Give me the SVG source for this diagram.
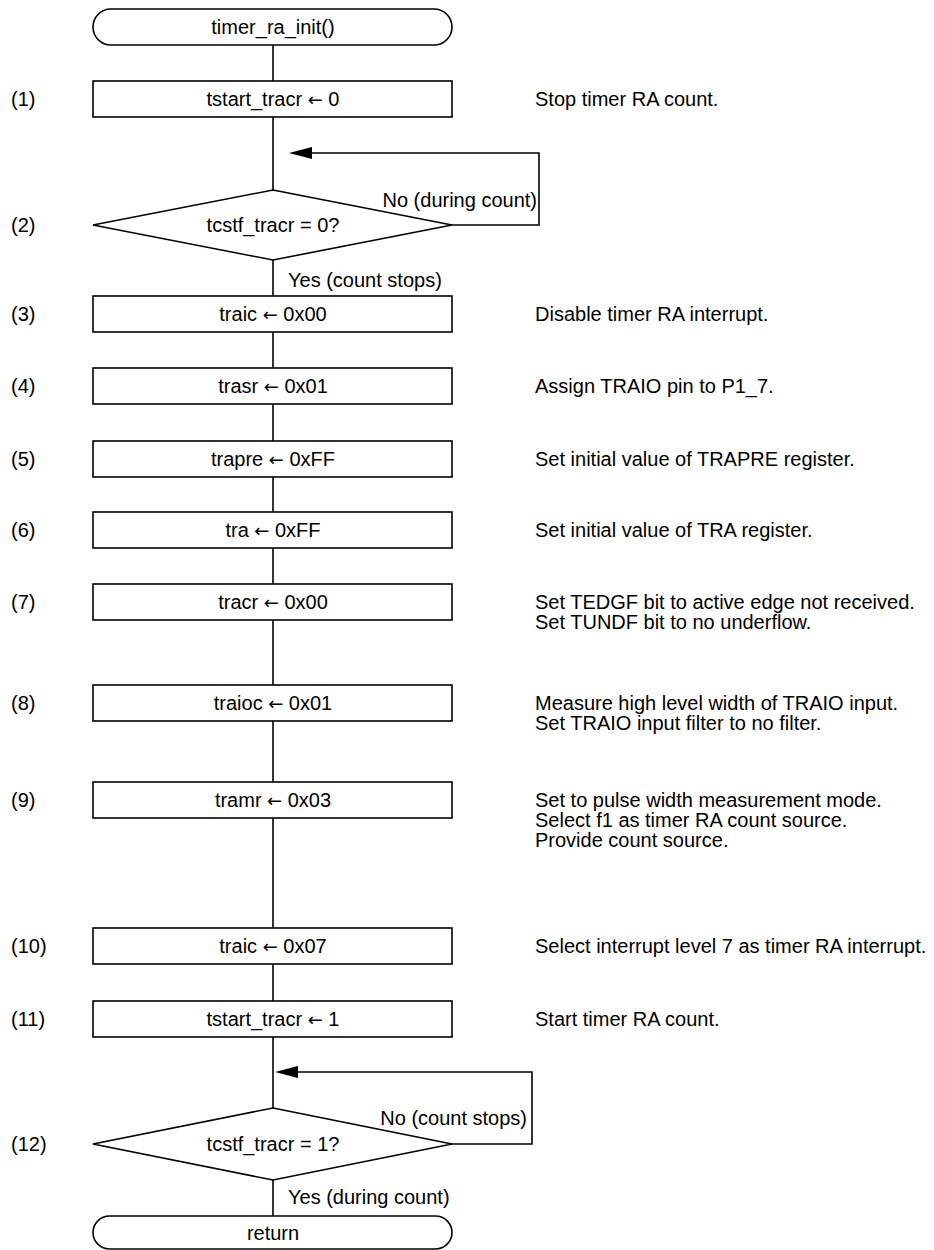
<svg xmlns="http://www.w3.org/2000/svg" width="934" height="1250" viewBox="0 0 934 1250">
<defs>
<style>
text{font-family:"Liberation Sans",Arial,sans-serif;font-size:20px;fill:#000}
.c{text-anchor:middle}
.r{text-anchor:end}
.a{font-family:"DejaVu Sans",sans-serif;font-size:18px}
.s{fill:#fff;stroke:#000;stroke-width:1.6}
.l{fill:none;stroke:#000;stroke-width:1.6}
</style>
</defs>
<rect width="934" height="1250" fill="#fff"/>
<g id="connectors">
<line class="l" x1="273" y1="45" x2="273" y2="81"/>
<line class="l" x1="273" y1="117" x2="273" y2="190"/>
<polyline class="l" points="451,225 539,225 539,153 310,153"/>
<polygon points="289,153 312,147 312,159" fill="#000"/>
<line class="l" x1="273" y1="260" x2="273" y2="296"/>
<line class="l" x1="273" y1="332" x2="273" y2="368"/>
<line class="l" x1="273" y1="404" x2="273" y2="441"/>
<line class="l" x1="273" y1="477" x2="273" y2="512"/>
<line class="l" x1="273" y1="548" x2="273" y2="584"/>
<line class="l" x1="273" y1="620" x2="273" y2="685"/>
<line class="l" x1="273" y1="721" x2="273" y2="782"/>
<line class="l" x1="273" y1="818" x2="273" y2="928"/>
<line class="l" x1="273" y1="964" x2="273" y2="1001"/>
<line class="l" x1="273" y1="1037" x2="273" y2="1108"/>
<polyline class="l" points="451,1144 532,1144 532,1072 296,1072"/>
<polygon points="275,1072 298,1066 298,1078" fill="#000"/>
<line class="l" x1="273" y1="1180" x2="273" y2="1216"/>
<text x="537" y="207" class="r">No (during count)</text>
<text x="288" y="287">Yes (count stops)</text>
<text x="527" y="1125" class="r">No (count stops)</text>
<text x="288" y="1204">Yes (during count)</text>
</g>
<g id="start">
<rect class="s" x="93" y="9" width="359" height="36" rx="18"/>
<text x="273" y="34" class="c">timer_ra_init()</text>
</g>
<g id="n1">
<text x="11" y="106">(1)</text>
<rect class="s" x="93" y="81" width="359" height="36"/>
<text x="273" y="106" class="c">tstart_tracr <tspan class="a">←</tspan> 0</text>
<text x="535" y="106">Stop timer RA count.</text>
</g>
<g id="n2">
<text x="11" y="232">(2)</text>
<polygon class="s" points="273,190 452,225 273,260 93,225"/>
<text x="273" y="232" class="c">tcstf_tracr = 0?</text>
</g>
<g id="n3">
<text x="11" y="321">(3)</text>
<rect class="s" x="93" y="296" width="359" height="36"/>
<text x="273" y="321" class="c">traic <tspan class="a">←</tspan> 0x00</text>
<text x="535" y="321">Disable timer RA interrupt.</text>
</g>
<g id="n4">
<text x="11" y="393">(4)</text>
<rect class="s" x="93" y="368" width="359" height="36"/>
<text x="273" y="393" class="c">trasr <tspan class="a">←</tspan> 0x01</text>
<text x="535" y="393">Assign TRAIO pin to P1_7.</text>
</g>
<g id="n5">
<text x="11" y="466">(5)</text>
<rect class="s" x="93" y="441" width="359" height="36"/>
<text x="273" y="466" class="c">trapre <tspan class="a">←</tspan> 0xFF</text>
<text x="535" y="466">Set initial value of TRAPRE register.</text>
</g>
<g id="n6">
<text x="11" y="537">(6)</text>
<rect class="s" x="93" y="512" width="359" height="36"/>
<text x="273" y="537" class="c">tra <tspan class="a">←</tspan> 0xFF</text>
<text x="535" y="537">Set initial value of TRA register.</text>
</g>
<g id="n7">
<text x="11" y="609">(7)</text>
<rect class="s" x="93" y="584" width="359" height="36"/>
<text x="273" y="609" class="c">tracr <tspan class="a">←</tspan> 0x00</text>
<text x="535" y="609">Set TEDGF bit to active edge not received.</text>
<text x="535" y="629">Set TUNDF bit to no underflow.</text>
</g>
<g id="n8">
<text x="11" y="710">(8)</text>
<rect class="s" x="93" y="685" width="359" height="36"/>
<text x="273" y="710" class="c">traioc <tspan class="a">←</tspan> 0x01</text>
<text x="535" y="710">Measure high level width of TRAIO input.</text>
<text x="535" y="730">Set TRAIO input filter to no filter.</text>
</g>
<g id="n9">
<text x="11" y="807">(9)</text>
<rect class="s" x="93" y="782" width="359" height="36"/>
<text x="273" y="807" class="c">tramr <tspan class="a">←</tspan> 0x03</text>
<text x="535" y="807">Set to pulse width measurement mode.</text>
<text x="535" y="827">Select f1 as timer RA count source.</text>
<text x="535" y="847">Provide count source.</text>
</g>
<g id="n10">
<text x="11" y="953">(10)</text>
<rect class="s" x="93" y="928" width="359" height="36"/>
<text x="273" y="953" class="c">traic <tspan class="a">←</tspan> 0x07</text>
<text x="535" y="953">Select interrupt level 7 as timer RA interrupt.</text>
</g>
<g id="n11">
<text x="11" y="1026">(11)</text>
<rect class="s" x="93" y="1001" width="359" height="36"/>
<text x="273" y="1026" class="c">tstart_tracr <tspan class="a">←</tspan> 1</text>
<text x="535" y="1026">Start timer RA count.</text>
</g>
<g id="n12">
<text x="11" y="1151">(12)</text>
<polygon class="s" points="273,1108 452,1144 273,1180 93,1144"/>
<text x="273" y="1151" class="c">tcstf_tracr = 1?</text>
</g>
<g id="end">
<rect class="s" x="93" y="1216" width="359" height="33" rx="16.5"/>
<text x="273" y="1240" class="c">return</text>
</g>
</svg>
